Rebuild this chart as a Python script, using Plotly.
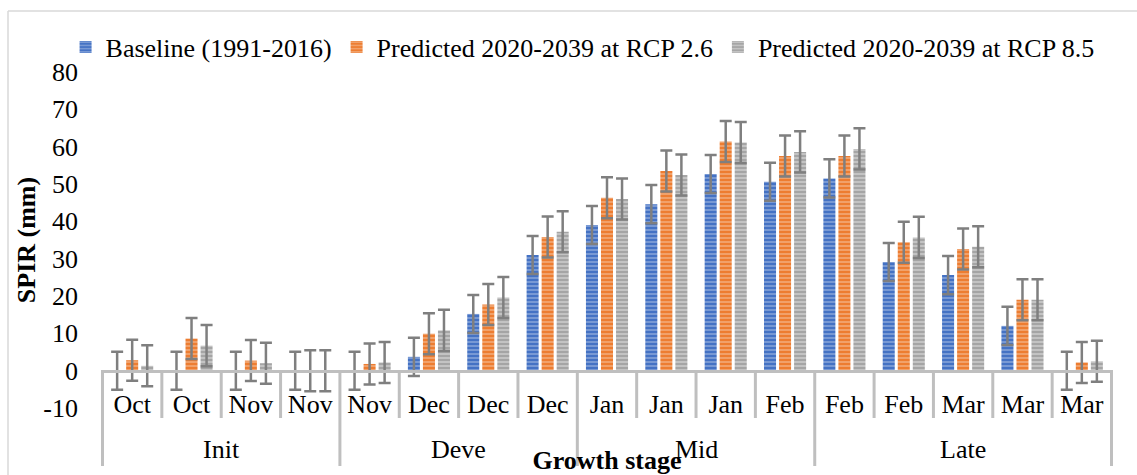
import plotly.graph_objects as go

# Growth stages and calendar months for each 10-day step
stages = ["Init"] * 4 + ["Deve"] * 4 + ["Mid"] * 4 + ["Late"] * 5
months = ["Oct", "Oct", "Nov", "Nov",
          "Nov", "Dec", "Dec", "Dec",
          "Jan", "Jan", "Jan", "Feb",
          "Feb", "Feb", "Mar", "Mar", "Mar"]

# SPIR (mm) per step
baseline = [0, 0, 0, 0, 0, 3.7, 15.2, 31.0, 39.0, 44.6, 52.7, 50.6, 51.5, 29.1, 25.6, 12.0, 0]
rcp26 = [2.8, 8.6, 2.7, 0, 1.8, 9.9, 17.7, 35.8, 46.3, 53.5, 61.4, 57.5, 57.5, 34.4, 32.6, 19.0, 2.2]
rcp85 = [1.3, 6.7, 2.0, 0, 2.2, 10.8, 19.6, 37.2, 46.0, 52.4, 61.1, 58.6, 59.4, 35.7, 33.2, 19.0, 2.5]

# error bar half-lengths (mm)
err_baseline = [5.1] * 17
err_rcp26 = [5.5] * 17
err_rcp85 = [5.5] * 17

series_names = ["Baseline (1991-2016)",
                "Predicted 2020-2039 at RCP 2.6",
                "Predicted 2020-2039 at RCP 8.5"]

y_ticks = [-10, 0, 10, 20, 30, 40, 50, 60, 70, 80]
y_ticktext = ["-10", "0", "10", "20", "30", "40", "50", "60", "70", "80"]

FONT = "Liberation Serif"
Y_MIN, Y_MAX = -10, 80

# plot box in pixels, used to turn pixel offsets into paper fractions
L, R, T, B, W, H = 101, 24, 72, 67, 1137, 475
PW, PH = W - L - R, H - T - B


def px_x(px):
    return (px - L) / PW


def px_y(py):
    return (H - B - py) / PH


# one category slot per step
keys = [f"{s}-{i}" for i, s in enumerate(stages)]

styles = [
    ("#4472C4", "#8FAADC"),
    ("#ED7D31", "#F4B183"),
    ("#A5A5A5", "#D0D0D0"),
]

fig = go.Figure()
for name, vals, errs, (bg, fg) in zip(series_names, [baseline, rcp26, rcp85],
                                      [err_baseline, err_rcp26, err_rcp85], styles):
    fig.add_trace(go.Bar(
        x=keys, y=vals, name=name,
        marker=dict(color=bg, line=dict(width=0),
                    pattern=dict(shape="-", bgcolor=bg, fgcolor=fg, fgopacity=1,
                                 size=4, solidity=0.35)),
        error_y=dict(type="data", array=errs, visible=True,
                     color="#7F7F7F", thickness=2.5, width=6),
    ))

zero_frac = (0 - Y_MIN) / (Y_MAX - Y_MIN)

# separators: short ones between steps, long ones at stage boundaries
shapes = []
n = len(months)
for i in range(n + 1):
    boundary = i == 0 or i == n or stages[i] != stages[i - 1]
    shapes.append(dict(type="line", xref="x", yref="paper",
                       x0=i - 0.5, x1=i - 0.5, y0=zero_frac,
                       y1=px_y(466) if boundary else px_y(418),
                       line=dict(color="#BFBFBF", width=3)))
# chart frame
shapes.append(dict(type="line", xref="paper", yref="paper",
                   x0=px_x(8), x1=px_x(8), y0=px_y(480), y1=px_y(11),
                   line=dict(color="#D9D9D9", width=1.5)))
shapes.append(dict(type="line", xref="paper", yref="paper",
                   x0=px_x(8), x1=px_x(1140), y0=px_y(11), y1=px_y(11),
                   line=dict(color="#D9D9D9", width=1.5)))

# stage names centred under their steps
annotations = []
order = []
for s in stages:
    if s not in order:
        order.append(s)
for s in order:
    idx = [i for i, v in enumerate(stages) if v == s]
    annotations.append(dict(text=s, x=(idx[0] + idx[-1]) / 2, xref="x",
                            y=px_y(449), yref="paper", yanchor="middle",
                            showarrow=False, font=dict(size=26)))

fig.update_layout(
    width=W, height=H,
    margin=dict(l=L, r=R, t=T, b=B, autoexpand=False),
    paper_bgcolor="white", plot_bgcolor="white",
    font=dict(family=FONT, size=26, color="black"),
    barmode="group", bargap=0.24, bargroupgap=0.2,
    showlegend=True,
    legend=dict(orientation="h", x=-0.035, xanchor="left", y=1.074, yanchor="middle",
                font=dict(size=26), itemwidth=30, bgcolor="rgba(0,0,0,0)"),
    shapes=shapes,
    annotations=annotations,
    xaxis=dict(type="category", anchor="free", position=zero_frac,
               tickvals=keys, ticktext=months,
               showline=True, linecolor="#BFBFBF", linewidth=3,
               ticks="outside", ticklen=9, tickcolor="rgba(0,0,0,0)",
               showgrid=False, automargin=False,
               tickfont=dict(size=26),
               title=dict(text="<b>Growth stage</b>", font=dict(size=26), standoff=41)),
    yaxis=dict(range=[Y_MIN, Y_MAX], tickvals=y_ticks, ticktext=y_ticktext,
               showgrid=False, zeroline=False,
               showline=False, ticks="", ticklabelstandoff=22, automargin=False,
               tickfont=dict(size=26),
               title=dict(text="<b>SPIR (mm)</b>", font=dict(size=26), standoff=0)),
)

fig.write_html("out.html")
